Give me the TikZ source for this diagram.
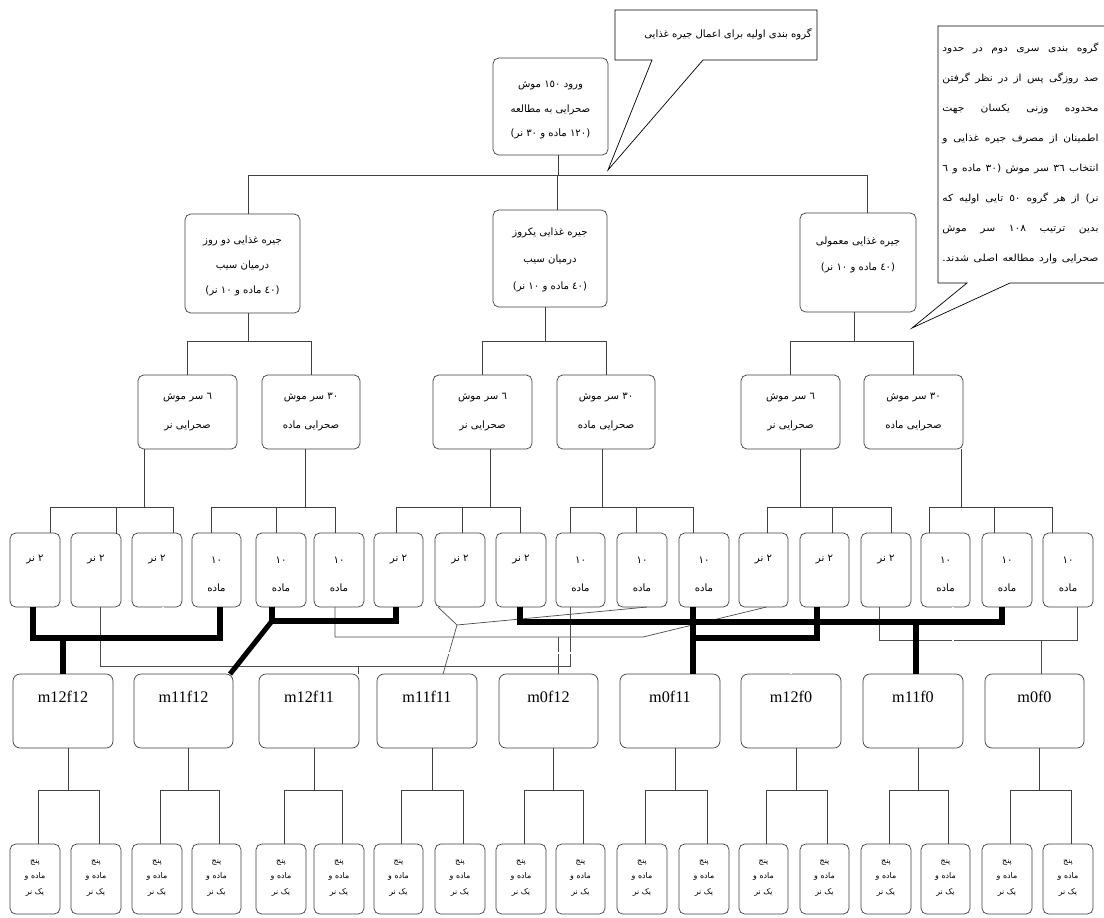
\documentclass[tikz,border=0pt]{standalone}
\usepackage{fontspec}
\setmainfont{Liberation Serif}
\newfontfamily\arabicfont[Script=Arabic]{DejaVu Sans}
\newfontfamily\arabicwide[Script=Arabic,FakeStretch=1.1]{DejaVu Sans}
\TeXXeTstate=1
\usetikzlibrary{calc}
\newcommand\fa[1]{{\arabicfont\beginR #1\endR}}
\newcommand\jl[1]{\hbox to 111pt{\arabicwide\beginR #1\endR}}
\newcommand\placebox[6]{\node[#1, minimum width={(#5-#3)*0.025cm}, minimum height={(#6-#4)*0.025cm}] (#2) at ({(#3+#5)/2},{(#4+#6)/2}) {};}
\begin{document}
\begin{tikzpicture}[x=0.025cm,y=-0.025cm,
  rbox/.style={draw=black!75, line width=0.5pt, rounded corners=4pt, fill=white, inner sep=0pt, outer sep=0pt},
  mbox/.style={rbox, rounded corners=5pt},
  link/.style={draw=black!75, line width=0.55pt},
  wl/.style={draw=black!70, line width=0.5pt},
  tk/.style={draw=black, line width=3.6pt},
  dl/.style={draw=black!80, double=white, double distance=1pt, line width=0.4pt},
  co/.style={draw=black, line width=0.5pt},
  ftx/.style={align=center, inner sep=0pt, font=\fontsize{7.2}{17.7}\selectfont},
  mlab/.style={inner sep=0pt, font=\fontsize{11.5}{12}\selectfont}]
\fill[white] (0,0) rectangle (1104,917);
\useasboundingbox (0,0) rectangle (1104,917);

% callouts
\fill[white] (615,10) -- (817,10) -- (817,60) -- (703,60) -- (608,170) -- (652,60) -- (615,60) -- cycle;
\draw[co] (615,10) -- (817,10) -- (817,60) -- (703,60) -- (608,170) -- (652,60) -- (615,60) -- cycle;
\node[ftx] (co1t) at (728,34) {\fa{گروه بندی اولیه برای اعمال جیره غذایی}};
\fill[white] (1104,26) -- (938,26) -- (938,283) -- (967,283) -- (912,328) -- (1010,283) -- (1104,283) -- cycle;
\draw[co] (1104,26) -- (938,26) -- (938,283) -- (967,283) -- (912,328) -- (1010,283) -- (1104,283);
\node[ftx, font=\fontsize{6.9}{21.3}\selectfont] (co2t) at (1020.5,153) {%
\jl{گروه بندی سری دوم در حدود}\\
\jl{صد روزگی پس از در نظر گرفتن}\\
\jl{محدوده وزنی یکسان جهت}\\
\jl{اطمینان از مصرف جیره غذایی و}\\
\jl{انتخاب ٣٦ سر موش (٣٠ ماده و ٦}\\
\jl{نر) از هر گروه ٥٠ تایی اولیه که}\\
\jl{بدین ترتیب ١٠٨ سر موش}\\
\jl{صحرایی وارد مطالعه اصلی شدند.}};

% level 1 and 2
\placebox{rbox}{root}{493}{58}{608}{155}
\placebox{rbox}{L}{185}{214}{300}{313}
\placebox{rbox}{M}{493}{210}{607}{307}
\placebox{rbox}{R}{800}{213}{916}{312}
\node[ftx] (rt) at (550.5,110) {\fa{ورود ١٥٠ موش}\\\fa{صحرایی به مطالعه}\\\fa{(١٢٠ ماده و ٣٠ نر)}};
\node[ftx] (Lt) at (242.5,266) {\fa{جیره غذایی دو روز}\\\fa{درمیان سیب}\\\fa{(٤٠ ماده و ١٠ نر)}};
\node[ftx, font=\fontsize{7.2}{19.1}\selectfont] (Mt) at (550,260) {\fa{جیره غذایی یکروز}\\\fa{درمیان سیب}\\\fa{(٤٠ ماده و ١٠ نر)}};
\node[ftx, font=\fontsize{7.2}{18.4}\selectfont] (Rt) at (858,255) {\fa{جیره غذایی معمولی}\\\fa{(٤٠ ماده و ١٠ نر)}};

% level 3
\placebox{rbox}{A1}{138}{375}{237}{449}
\placebox{rbox}{A2}{262}{375}{360}{449}
\placebox{rbox}{B1}{433}{375}{532}{449}
\placebox{rbox}{B2}{557}{375}{655}{449}
\placebox{rbox}{C1}{741}{375}{840}{449}
\placebox{rbox}{C2}{864}{375}{963}{449}
\foreach \n in {A1,B1,C1}
  \node[ftx, font=\fontsize{7.2}{21.3}\selectfont] (\n t) at (\n.center) {\fa{٦ سر موش}\\\fa{صحرایی نر}};
\foreach \n in {A2,B2,C2}
  \node[ftx, font=\fontsize{7.2}{21.3}\selectfont] (\n t) at (\n.center) {\fa{٣٠ سر موش}\\\fa{صحرایی ماده}};

% level 4 and leaves
\foreach \i/\a/\b in {1/10/60,2/71/121,3/132/182,4/192/241,5/256/306,6/314/364,7/374/423,8/435/485,9/496/546,10/556/605,11/617/667,12/679/729,13/739/788,14/800/849,15/861/911,16/921/970,17/982/1032,18/1043/1093}{
  \placebox{rbox}{g\i}{\a}{533}{\b}{607}
  \placebox{rbox}{l\i}{\a}{844}{\b}{914}
  \node[ftx, font=\fontsize{5.6}{10.8}\selectfont] (lt\i) at ($(l\i.center)+(0,-1)$) {\fa{پنج}\\\fa{ماده و}\\\fa{یک نر}};
}
\foreach \i in {1,2,3,7,8,9,13,14,15}
  \node[ftx] (gt\i) at ($(g\i.north)+(0,27)$) {\fa{٢ نر}};
\foreach \i in {4,5,6,10,11,12,16,17,18}
  \node[ftx, font=\fontsize{7.2}{19.8}\selectfont] (gt\i) at ($(g\i.north)+(0,41)$) {\fa{١٠}\\\fa{ماده}};

% level 5
\foreach \i/\a/\b/\lab in {1/13/113/m12f12,2/134/233/m11f12,3/259/359/m12f11,4/377/477/m11f11,5/499/598/m0f12,6/620/720/m0f11,7/741/841/m12f0,8/863/963/m11f0,9/985/1084/m0f0}{
  \placebox{mbox}{m\i}{\a}{674}{\b}{748}
  \node[mlab] (mt\i) at ($(m\i.north)+(0,23)$) {\lab};
}

% tree connectors
\draw[link] ($(root.south)+(7.5,0)$) -- ++(0,20);
\draw[link] ($(L.north)+(5.5,0)$) -- ++(0,-39) -| ($(R.north)+(9,0)$);
\draw[link] ($(M.north)+(7,0)$) -- ++(0,-35);
\draw[link] ($(L.south)+(5.5,0)$) -- ++(0,28);
\draw[link] (A1.north) -- ++(0,-34) -| (A2.north);
\draw[link] ($(M.south)+(-5,0)$) -- ++(0,34);
\draw[link] (B1.north) -- ++(0,-34) -| (B2.north);
\draw[link] ($(R.south)+(-4,0)$) -- ++(0,29);
\draw[link] (C1.north) -- ++(0,-34) -| (C2.north);
\foreach \p/\po/\xa/\oa/\xb/\ob/\xc/\oc in {A1/-43.5/1/15/2/20/3/16, A2/-6/4/-5/5/-5/6/-4, B1/7.5/7/-2/8/2/9/-1, B2/-4/10/-10/11/-6/12/-11, C1/9.5/13/4/14/8/15/5, C2/47.5/16/-16/17/-13/18/-16}{
  \draw[link] ($(\p.south)+(\po,0)$) -- ++(0,58);
  \draw[link] ($(g\xa.north)+(\oa,0)$) -- ++(0,-26) -| ($(g\xc.north)+(\oc,0)$);
  \draw[link] ($(g\xb.north)+(\ob,0)$) -- ++(0,-26);
}
\foreach \i/\a/\b in {1/1/2,2/3/4,3/5/6,4/7/8,5/9/10,6/11/12,7/13/14,8/15/16,9/17/18}{
  \draw[link] ($(m\i.south)+(5,0)$) -- ++(0,42);
  \draw[link] ($(l\a.north)+(3,0)$) -- ++(0,-54) -| ($(l\b.north)+(3,0)$);
}

% crossing connectors: thin
\draw[wl] ($(g2.south)+(4,0)$) -- ++(0,59) -| ($(g10.south)+(-10.5,0)$);
\draw[wl] ($(m3.north)+(49,0)$) -- ++(0,-8);
\coordinate (j7) at (457,625);
\draw[wl] ($(g8.south west)+(3,0)$) -- (j7) -- ($(g11.south)+(5,0)$);
\draw[wl] (j7) -- ($(m4.north)+(16,0)$);
\coordinate (j8) at (643,637);
\draw[wl] ($(g6.south)+(-4,0)$) -- ++(0,30) -- (j8) -- ($(g13.south)+(3,0)$);
\draw[wl] ($(m5.north)+(9.5,0)$) -- ++(0,-37);
\draw[wl] ($(g15.south)+(-7,0)$) -- ++(0,33) -| ($(g18.south)+(9,0)$);
\draw[wl] ($(m9.north)+(6.5,0)$) -- ++(0,-34);
% double
\draw[dl] ($(g3.south)+(6,0)$) -- ++(0,46) -| ($(g16.south)+(7.5,0)$);
\draw[dl] (m7.north) -- ++(0,-21);
% thick
\draw[tk] ($(g1.south)+(-2,0)$) -- ++(0,31) -| ($(g4.south)+(3.5,0)$);
\draw[tk] (m1.north) -- ++(0,-36);
\draw[tk] ($(g5.south)+(-9,0)$) -- ++(0,14) coordinate (w2j) -| ($(g7.south)+(-2.5,0)$);
\draw[tk] (w2j) -- ($(m2.north east)+(-3,0)$);
\draw[tk] ($(g9.south)+(-1,0)$) -- ++(0,15) -| ($(g17.south)+(-5,0)$);
\draw[tk] ($(m8.north)+(3,0)$) -- ++(0,-52);
\draw[tk] ($(g12.south)+(-11,0)$) -- ($(m6.north)+(23,0)$);
\draw[tk] ($(g14.south)+(-7.5,0)$) -- ++(0,31) -| ($(m6.north)+(23,-36)$);
\end{tikzpicture}
\end{document}
